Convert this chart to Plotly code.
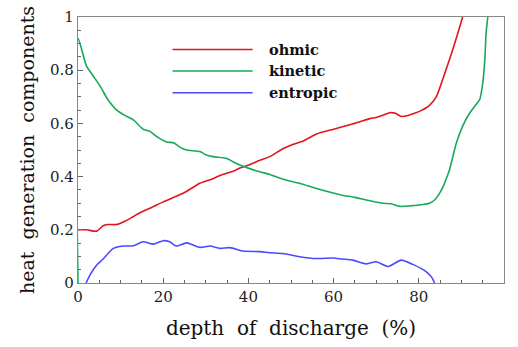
import plotly.graph_objects as go

# depth of discharge (%) and components
ohmic_x = [0, 2, 4.4, 5.9, 7, 9.1, 11, 13, 15, 17, 20, 22.5, 25, 28.6, 31, 33.5, 36.4, 38, 40.3, 43, 45, 48.1, 50, 53, 56, 60, 63.8, 66, 68.5, 70, 71.5, 73.2, 74.5, 75.9, 77.5, 79, 80.5, 82.5, 84.1, 85.5, 87.2, 88.8, 90.3]
ohmic_y = [0.2, 0.2, 0.195, 0.215, 0.22, 0.22, 0.232, 0.25, 0.268, 0.282, 0.305, 0.322, 0.34, 0.375, 0.388, 0.405, 0.42, 0.432, 0.445, 0.463, 0.475, 0.505, 0.518, 0.535, 0.56, 0.578, 0.595, 0.605, 0.618, 0.622, 0.63, 0.64, 0.638, 0.626, 0.63, 0.638, 0.648, 0.668, 0.7, 0.76, 0.84, 0.92, 1.0]

kinetic_x = [0, 0, 2, 3.5, 5.2, 7, 9.1, 11, 13, 15.3, 16.9, 18.5, 20.8, 22.4, 24, 25.5, 28.6, 30, 31.7, 34.9, 36.5, 38, 40.3, 42.7, 45, 48.1, 52, 56, 59.9, 62, 65, 67.7, 71.6, 73.5, 75.5, 78, 81, 82.5, 83.7, 84.8, 85.7, 86.4, 87.2, 88.8, 90.3, 91.9, 93.3, 94.3, 95, 95.5, 95.8, 96.2]
kinetic_y = [0, 0.92, 0.815, 0.78, 0.74, 0.69, 0.65, 0.63, 0.613, 0.578, 0.57, 0.55, 0.53, 0.527, 0.51, 0.5, 0.494, 0.482, 0.475, 0.468, 0.455, 0.444, 0.43, 0.418, 0.408, 0.39, 0.375, 0.355, 0.338, 0.33, 0.322, 0.312, 0.3, 0.298, 0.288, 0.29, 0.295, 0.3, 0.312, 0.335, 0.362, 0.39, 0.425, 0.525, 0.59, 0.638, 0.668, 0.69, 0.75, 0.84, 0.94, 1.0]

entropic_x = [1.9, 3, 4.4, 5.9, 7, 8.3, 10.6, 13, 15.3, 17.7, 20, 21.5, 23.1, 25.5, 28.6, 31, 33.3, 35.7, 38.8, 42.7, 45, 48.1, 52, 56, 59.9, 62, 64.5, 67.7, 70, 72.8, 75.9, 78.6, 80.5, 81.7, 83, 83.7]
entropic_y = [0, 0.035, 0.068, 0.09, 0.11, 0.13, 0.139, 0.14, 0.155, 0.146, 0.159, 0.155, 0.139, 0.151, 0.134, 0.139, 0.13, 0.133, 0.12, 0.118, 0.114, 0.111, 0.099, 0.092, 0.094, 0.09, 0.086, 0.072, 0.08, 0.062, 0.086, 0.07, 0.055, 0.043, 0.022, 0.0]

series_names = ["ohmic", "kinetic", "entropic"]
series_colors = ["#e3141c", "#18a85a", "#4a4aff"]

x_ticks = [0, 20, 40, 60, 80, 100]
y_ticks = [0, 0.2, 0.4, 0.6, 0.8, 1]
y_tick_text = ["0", "0.2", "0.4", "0.6", "0.8", "1"]

SERIF = "DejaVu Serif"

fig = go.Figure()
for xs, ys, name, col in zip([ohmic_x, kinetic_x, entropic_x],
                             [ohmic_y, kinetic_y, entropic_y],
                             series_names, series_colors):
    fig.add_trace(go.Scatter(x=xs, y=ys, mode="lines", name=name,
                             line=dict(color=col, width=1.6, shape="spline", smoothing=0.6),
                             showlegend=False, cliponaxis=True))

# legend drawn manually (long line samples)
leg_y = [0.878, 0.797, 0.715]
for name, col, yy in zip(series_names, series_colors, leg_y):
    fig.add_shape(type="line", xref="paper", yref="paper",
                  x0=0.222, x1=0.41, y0=yy, y1=yy,
                  line=dict(color=col, width=1.6))
    fig.add_annotation(xref="paper", yref="paper", x=0.443, y=yy,
                       text="<b>" + name + "</b>", showarrow=False,
                       xanchor="left", yanchor="middle",
                       font=dict(family=SERIF, size=14.5, color="#111"))

axis_common = dict(showline=True, linecolor="#888", linewidth=1.2, mirror=True,
                   ticks="inside", ticklen=5, tickcolor="#666", tickwidth=1,
                   showgrid=False, zeroline=False, automargin=False,
                   tickfont=dict(family=SERIF, size=15, color="#222"))

fig.update_xaxes(range=[0, 100], tickvals=x_ticks,
                 minor=dict(ticks="inside", ticklen=3, tickcolor="#666", dtick=5, tick0=0, showgrid=False),
                 title=dict(text="depth\u00a0\u00a0of\u00a0\u00a0discharge\u00a0\u00a0(%)",
                            font=dict(family=SERIF, size=20, color="#111"), standoff=15),
                 **axis_common)
fig.update_yaxes(range=[0, 1], tickvals=y_ticks, ticktext=y_tick_text,
                 minor=dict(ticks="inside", ticklen=3, tickcolor="#666", dtick=0.05, tick0=0, showgrid=False),
                 title=dict(text="heat\u00a0\u00a0generation\u00a0\u00a0components",
                            font=dict(family=SERIF, size=19, color="#111"), standoff=10),
                 **axis_common)

fig.update_layout(width=518, height=347, margin=dict(l=78, r=14, t=17, b=64),
                  paper_bgcolor="white", plot_bgcolor="white",
                  font=dict(family=SERIF))

fig.write_html("out.html")
